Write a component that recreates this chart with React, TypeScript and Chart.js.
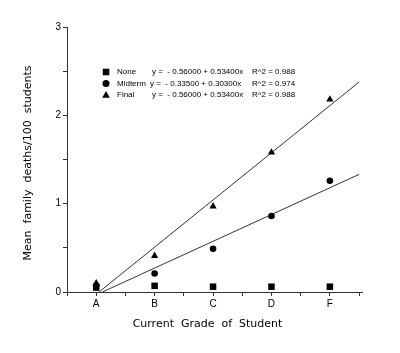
import React, { useEffect, useRef } from 'react';
import { Chart, registerables } from 'chart.js';

Chart.register(...registerables);

// ---- data ----
const grades = ['A', 'B', 'C', 'D', 'F'];
const gradeX = [1, 2, 3, 4, 5];
const noneValues = [0.05, 0.07, 0.06, 0.06, 0.06];
const midtermValues = [0.07, 0.21, 0.49, 0.86, 1.26];
const finalValues = [0.10, 0.41, 0.97, 1.58, 2.18];
const seriesNames = ['None', 'Midterm', 'Final'];
const intercepts = [-0.56, -0.335, -0.56];
const slopes = [0.534, 0.303, 0.534];
const rSquared = [0.988, 0.974, 0.988];
const yTickValues = [0, 1, 2, 3];
const xTitle = 'Current  Grade  of  Student    ';
const yTitle = 'Mean  family  deaths/100  students  ';

const xMin = 0.5;
const xMax = 5.55;
const lineEnd = 5.5;

const pts = (vals: number[]) => vals.map((v, i) => ({ x: gradeX[i], y: v }));
const regLine = (i: number) => [
  { x: -intercepts[i] / slopes[i], y: 0 },
  { x: lineEnd, y: intercepts[i] + slopes[i] * lineEnd },
];

const fmtEq = (i: number) => {
  const b = intercepts[i];
  const sign = b < 0 ? '-' : '+';
  return `y =  ${sign} ${Math.abs(b).toFixed(5)} + ${slopes[i].toFixed(5)}x`;
};

const legendPlugin = {
  id: 'customLegend',
  afterDraw(chart: any) {
    const { ctx, chartArea } = chart;
    const x0 = chartArea.left + 39;
    const rows = [chartArea.top + 45, chartArea.top + 56.5, chartArea.top + 68];
    ctx.save();
    ctx.fillStyle = '#000';
    ctx.font = '8px "Liberation Sans", Arial, sans-serif';
    ctx.textBaseline = 'middle';
    rows.forEach((y, i) => {
      ctx.beginPath();
      if (i === 0) {
        ctx.rect(x0 - 3.3, y - 3.3, 6.6, 6.6);
      } else if (i === 1) {
        ctx.arc(x0, y, 3.5, 0, Math.PI * 2);
      } else {
        ctx.moveTo(x0, y - 4);
        ctx.lineTo(x0 + 3.8, y + 2.8);
        ctx.lineTo(x0 - 3.8, y + 2.8);
        ctx.closePath();
      }
      ctx.fill();
      ctx.fillText(seriesNames[i], x0 + 11, y);
      ctx.fillText(fmtEq(i), x0 + 46 - (i === 1 ? 2 : 0), y);
      ctx.fillText(`R^2 = ${rSquared[i].toFixed(3)}`, x0 + 146, y);
    });
    ctx.restore();
  },
};

export default function App() {
  const ref = useRef<HTMLCanvasElement | null>(null);

  useEffect(() => {
    if (!ref.current) return;
    const tickFont = { family: '"Liberation Sans", Arial, sans-serif', size: 10 };
    const titleFont = { family: '"DejaVu Sans", Verdana, sans-serif', size: 11 };
    const chart = new Chart(ref.current, {
      type: 'scatter',
      data: {
        datasets: [
          {
            label: seriesNames[0],
            data: pts(noneValues),
            pointStyle: 'rect',
            pointRadius: 4.6,
            backgroundColor: '#000',
            borderColor: '#000',
            borderWidth: 0,
          },
          {
            label: seriesNames[1],
            data: pts(midtermValues),
            pointStyle: 'circle',
            pointRadius: 3.3,
            backgroundColor: '#000',
            borderColor: '#000',
            borderWidth: 0,
          },
          {
            label: seriesNames[2],
            data: pts(finalValues),
            pointStyle: 'triangle',
            pointRadius: 4.2,
            backgroundColor: '#000',
            borderColor: '#000',
            borderWidth: 0,
          },
          {
            label: 'Midterm fit',
            data: regLine(1),
            showLine: true,
            pointRadius: 0,
            borderColor: '#333',
            borderWidth: 1,
          },
          {
            label: 'Final fit',
            data: regLine(2),
            showLine: true,
            pointRadius: 0,
            borderColor: '#333',
            borderWidth: 1,
          },
        ],
      },
      options: {
        animation: false,
        responsive: false,
        layout: { padding: { top: 27, right: 38, left: 0, bottom: 0 } },
        plugins: { legend: { display: false }, tooltip: { enabled: false } },
        scales: {
          x: {
            type: 'linear',
            min: xMin,
            max: xMax,
            afterBuildTicks: (scale: any) => {
              const t = [];
              for (let v = 0.5; v <= 5.5001; v += 0.5) t.push({ value: v });
              scale.ticks = t;
            },
            afterFit: (scale: any) => {
              scale.height = 61;
            },
            ticks: {
              autoSkip: false,
              maxRotation: 0,
              padding: 2,
              color: '#000',
              font: tickFont,
              callback: (v: any) => {
                const idx = gradeX.indexOf(Number(v));
                return idx >= 0 ? grades[idx] : '';
              },
            },
            grid: { drawOnChartArea: false, drawTicks: true, tickLength: 4, color: '#333' },
            border: { display: true, color: '#333', width: 1 },
            title: {
              display: true,
              text: xTitle,
              color: '#000',
              font: titleFont,
              padding: { top: 0, bottom: 22 },
            },
          },
          y: {
            type: 'linear',
            min: 0,
            max: 3,
            afterBuildTicks: (scale: any) => {
              const t = [];
              for (let v = 0; v <= 3.0001; v += 0.5) t.push({ value: v });
              scale.ticks = t;
            },
            afterFit: (scale: any) => {
              scale.width = 67;
            },
            ticks: {
              autoSkip: false,
              padding: 2,
              color: '#000',
              font: tickFont,
              callback: (v: any) => (yTickValues.includes(Number(v)) ? String(v) : ''),
            },
            grid: { drawOnChartArea: false, drawTicks: true, tickLength: 4, color: '#333' },
            border: { display: true, color: '#333', width: 1 },
            title: {
              display: true,
              text: yTitle,
              color: '#000',
              font: titleFont,
              padding: { top: 22, bottom: 0 },
            },
          },
        },
      },
      plugins: [legendPlugin],
    } as any);
    return () => chart.destroy();
  }, []);

  return (
    <div style={{ position: 'absolute', left: 0, top: 0, width: 400, height: 353, background: '#fff' }}>
      <canvas ref={ref} width={400} height={353} style={{ width: 400, height: 353 }} />
    </div>
  );
}
